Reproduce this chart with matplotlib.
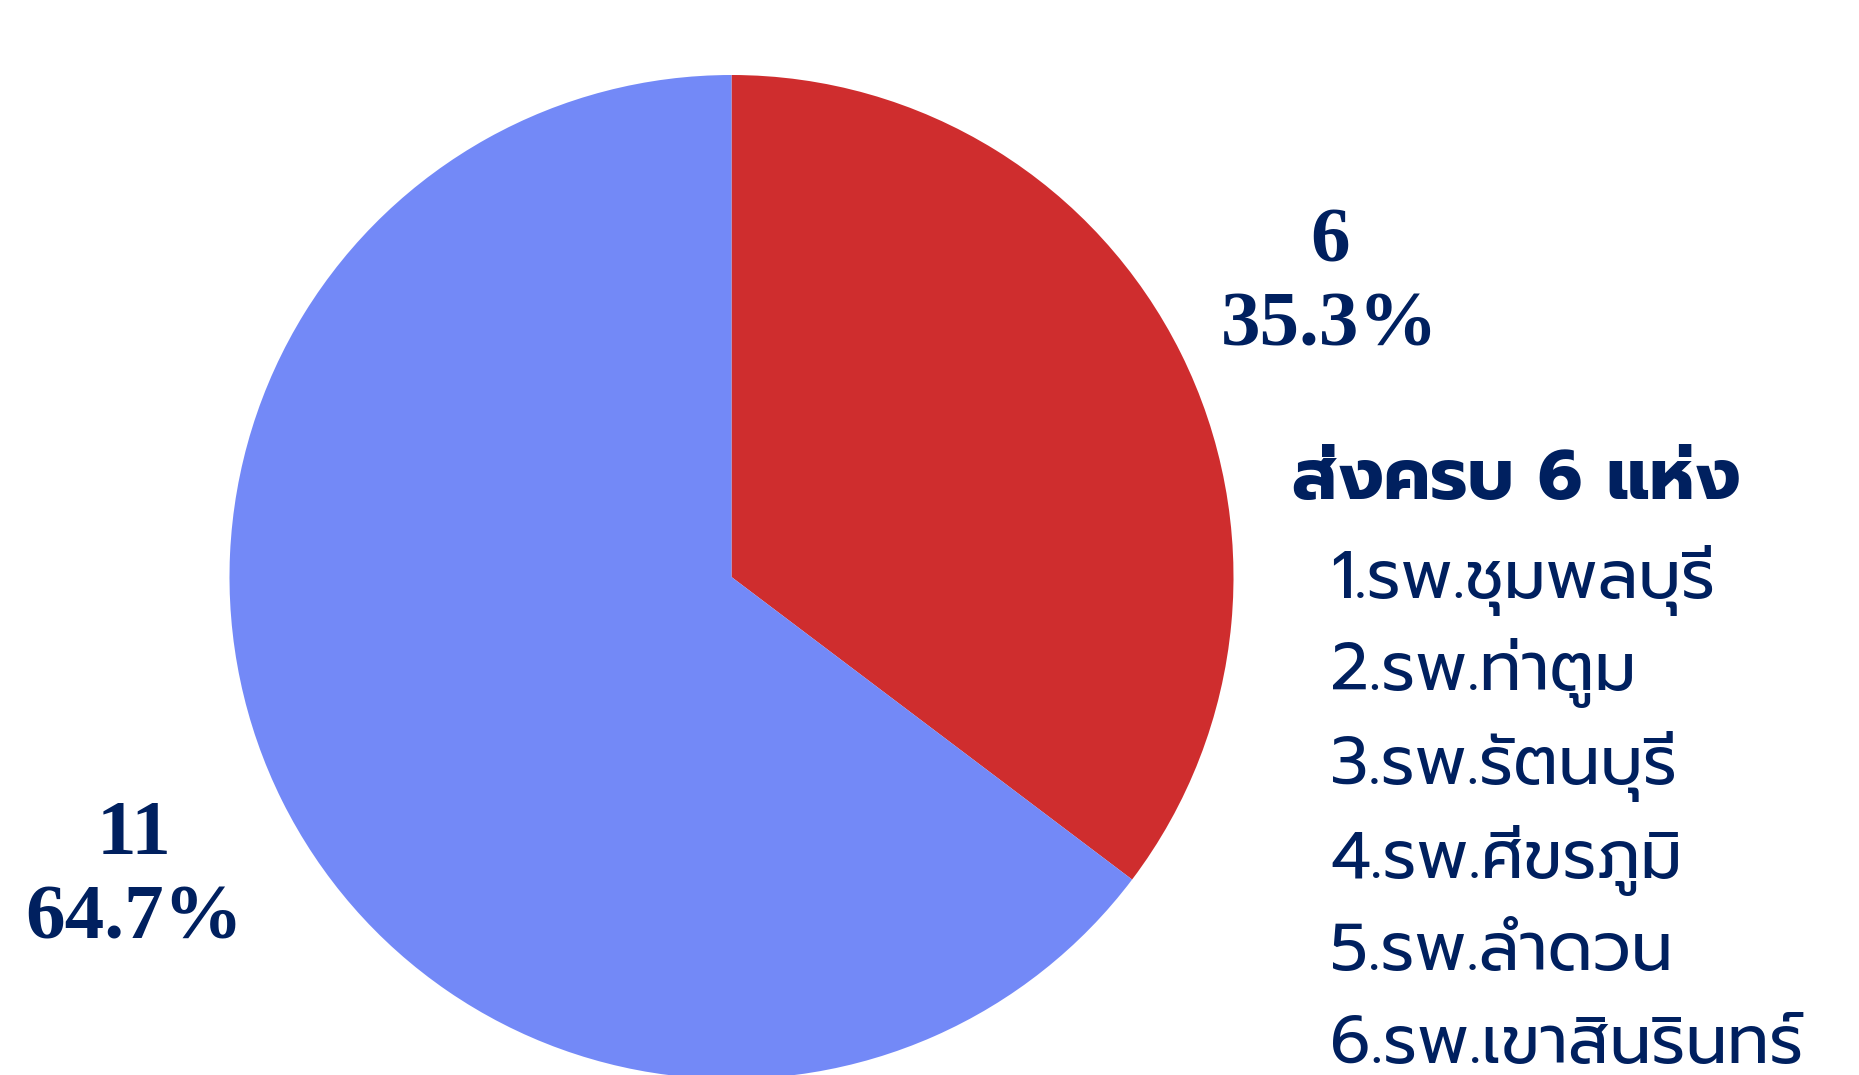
import matplotlib
matplotlib.use('Agg')
import matplotlib.pyplot as plt

# Data
categories = ["ส่งครบ", "ยังไม่ส่ง"]
values = [6, 11]
colors = ["#CF2D2E", "#7389F7"]
heading = "ส่งครบ 6 แห่ง"
hospitals = ["1.รพ.ชุมพลบุรี", "2.รพ.ท่าตูม", "3.รพ.รัตนบุรี",
             "4.รพ.ศีขรภูมิ", "5.รพ.ลำดวน", "6.รพ.เขาสินรินทร์"]

TEXT = "#00205F"
W, H = 1859, 1075
fig = plt.figure(figsize=(W / 100, H / 100), dpi=100)
fig.patch.set_facecolor("white")

cx, cy, r = 731.5, 577, 502
ax = fig.add_axes([(cx - r) / W, (H - cy - r) / H, 2 * r / W, 2 * r / H])
ax.pie(values, colors=colors, startangle=90, counterclock=False,
       radius=1.0, wedgeprops=dict(linewidth=0))
ax.set_xlim(-1, 1)
ax.set_ylim(-1, 1)
ax.set_aspect('equal')
ax.axis('off')

total = sum(values)
serif = dict(family="Liberation Serif", weight="bold", color=TEXT, fontsize=57)
label_pos = [(1330, 243, 327), (134, 836, 920)]
for v, (x, y1, y2) in zip(values, label_pos):
    fig.text(x / W, 1 - y1 / H, f"{v}", ha="center", va="center", **serif)
    fig.text(x / W, 1 - y2 / H, f"{v / total * 100:.1f}%", ha="center", va="center", **serif)

thai = ["Prompt", "DejaVu Sans"]
fig.text(1292 / W, 1 - 481 / H, heading, ha="left", va="center",
         family=thai, weight="bold", fontsize=51, color=TEXT)
ys = [581, 673, 767, 860, 953, 1046]
for name, y in zip(hospitals, ys):
    fig.text(1330 / W, 1 - y / H, name, ha="left", va="center",
             family=thai, fontsize=48, color=TEXT)

fig.savefig("out.png", dpi=100)
